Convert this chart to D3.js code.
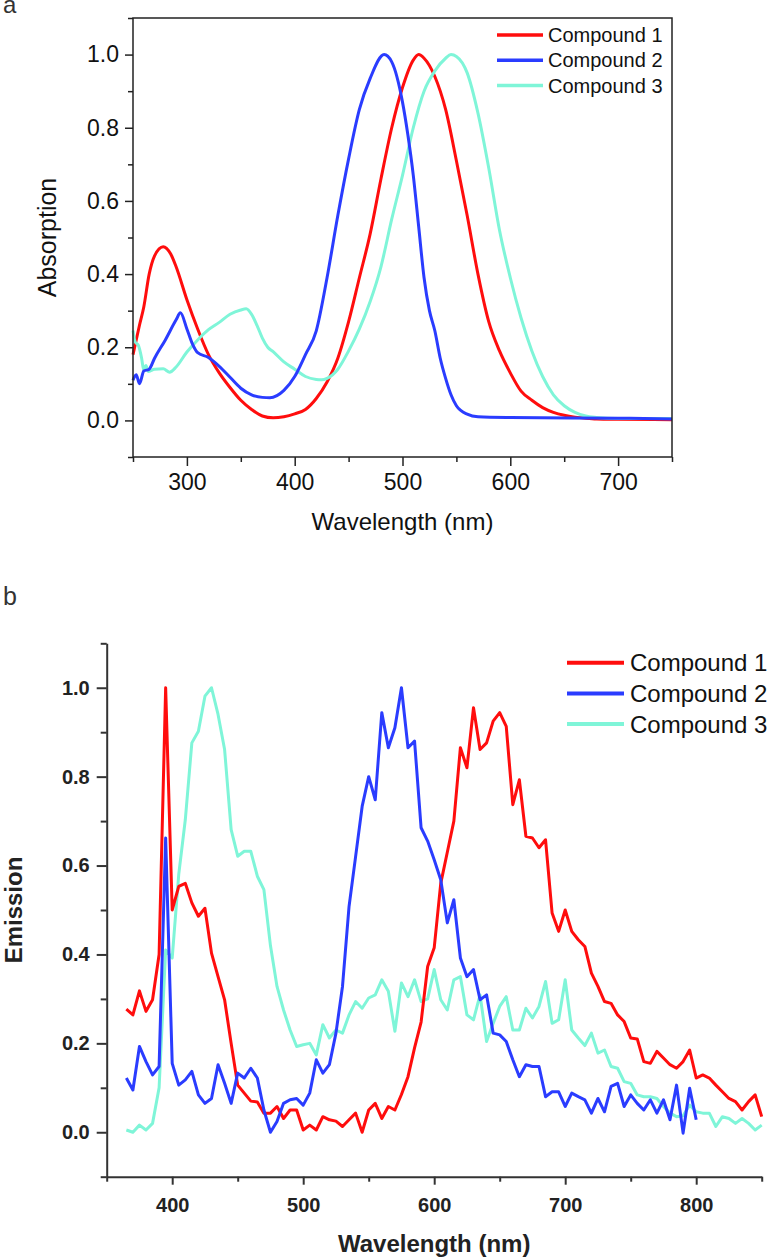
<!DOCTYPE html>
<html>
<head>
<meta charset="utf-8">
<script src="https://cdn.jsdelivr.net/npm/d3@7"></script>
<style>
  body { margin: 0; background: #fff; }
  svg { display: block; font-family: "Liberation Sans", Arial, sans-serif; }
</style>
</head>
<body>
<svg id="chart" width="773" height="1260"></svg>
<script>
// ---- data: panel a (absorption) ----
const seriesNames = ['Compound 1', 'Compound 2', 'Compound 3'];

const absWl1 = [250, 253, 256, 260, 265, 270, 278, 285, 290, 300, 310, 320, 330, 340, 350, 360, 370, 380, 390, 400, 410, 420, 430, 440, 450, 460, 470, 480, 490, 500, 510, 515, 520, 530, 540, 550, 560, 570, 580, 590, 600, 610, 620, 630, 640, 650, 660, 670, 680, 700, 750];
const absVal1 = [0.18, 0.22, 0.26, 0.31, 0.40, 0.45, 0.475, 0.455, 0.42, 0.33, 0.25, 0.18, 0.13, 0.09, 0.055, 0.03, 0.012, 0.007, 0.01, 0.018, 0.03, 0.06, 0.105, 0.17, 0.27, 0.39, 0.51, 0.66, 0.80, 0.91, 0.985, 1.0, 0.99, 0.94, 0.85, 0.71, 0.56, 0.40, 0.27, 0.19, 0.13, 0.08, 0.055, 0.035, 0.022, 0.014, 0.009, 0.006, 0.004, 0.003, 0.002];

const absWl2 = [250, 253, 256, 260, 265, 270, 280, 290, 294, 300, 305, 310, 320, 330, 340, 350, 360, 370, 377, 390, 400, 410, 420, 430, 440, 450, 460, 470, 483, 490, 500, 505, 510, 515, 520, 525, 530, 535, 540, 545, 550, 560, 570, 600, 700, 750];
const absVal2 = [0.11, 0.125, 0.10, 0.135, 0.14, 0.17, 0.22, 0.275, 0.294, 0.25, 0.21, 0.185, 0.172, 0.148, 0.118, 0.088, 0.07, 0.063, 0.062, 0.082, 0.12, 0.18, 0.245, 0.39, 0.56, 0.715, 0.85, 0.935, 1.0, 0.98, 0.87, 0.78, 0.67, 0.53, 0.39, 0.30, 0.245, 0.17, 0.115, 0.07, 0.04, 0.017, 0.01, 0.008, 0.006, 0.004];

const absWl3 = [250, 252, 255, 258, 260, 262, 264, 270, 278, 284, 290, 300, 310, 320, 330, 340, 350, 355, 360, 365, 370, 375, 380, 390, 400, 410, 420, 425, 430, 440, 450, 460, 470, 480, 490, 500, 510, 520, 530, 540, 545, 550, 560, 570, 580, 590, 600, 610, 620, 630, 640, 650, 660, 670, 680, 700, 750];
const absVal3 = [0.246, 0.215, 0.205, 0.17, 0.137, 0.15, 0.134, 0.14, 0.141, 0.132, 0.146, 0.187, 0.22, 0.248, 0.268, 0.29, 0.302, 0.305, 0.29, 0.26, 0.225, 0.2, 0.188, 0.16, 0.14, 0.12, 0.112, 0.111, 0.115, 0.14, 0.19, 0.25, 0.325, 0.42, 0.55, 0.67, 0.8, 0.9, 0.955, 0.99, 1.0, 0.995, 0.95, 0.84, 0.69, 0.52, 0.39, 0.28, 0.19, 0.12, 0.07, 0.04, 0.022, 0.012, 0.008, 0.005, 0.005];

// ---- data: panel b (emission) ----
const emWl = [365, 370, 375, 380, 385, 390, 395, 400, 405, 410, 415, 420, 425, 430, 435, 440, 445, 450, 455, 460, 465, 470, 475, 480, 485, 490, 495, 500, 505, 510, 515, 520, 525, 530, 535, 540, 545, 550, 555, 560, 565, 570, 575, 580, 585, 590, 595, 600, 605, 610, 615, 620, 625, 630, 635, 640, 645, 650, 655, 660, 665, 670, 675, 680, 685, 690, 695, 700, 705, 710, 715, 720, 725, 730, 735, 740, 745, 750, 755, 760, 765, 770, 775, 780, 785, 790, 795, 800, 805, 810, 815, 820, 825, 830, 835, 840, 845, 850];

const emVal1 = [0.277, 0.264, 0.318, 0.272, 0.298, 0.40, 1.0, 0.50, 0.553, 0.56, 0.516, 0.486, 0.504, 0.403, 0.35, 0.298, 0.2, 0.106, 0.088, 0.07, 0.068, 0.043, 0.043, 0.058, 0.031, 0.05, 0.05, 0.005, 0.016, 0.005, 0.035, 0.028, 0.025, 0.013, 0.028, 0.043, 0.0, 0.05, 0.065, 0.031, 0.058, 0.05, 0.085, 0.125, 0.19, 0.248, 0.373, 0.415, 0.56, 0.63, 0.70, 0.865, 0.82, 0.955, 0.861, 0.876, 0.925, 0.944, 0.913, 0.737, 0.793, 0.666, 0.662, 0.64, 0.658, 0.493, 0.452, 0.50, 0.452, 0.433, 0.418, 0.358, 0.328, 0.294, 0.29, 0.264, 0.249, 0.212, 0.21, 0.159, 0.155, 0.182, 0.167, 0.152, 0.144, 0.159, 0.185, 0.122, 0.129, 0.122, 0.106, 0.091, 0.076, 0.069, 0.05, 0.069, 0.084, 0.035];

const emVal2 = [0.122, 0.095, 0.193, 0.159, 0.129, 0.148, 0.662, 0.155, 0.106, 0.118, 0.137, 0.084, 0.065, 0.076, 0.152, 0.11, 0.065, 0.133, 0.122, 0.144, 0.122, 0.05, 0.0, 0.024, 0.065, 0.073, 0.076, 0.061, 0.088, 0.163, 0.133, 0.152, 0.223, 0.328, 0.508, 0.62, 0.733, 0.80, 0.748, 0.944, 0.865, 0.91, 1.0, 0.865, 0.88, 0.685, 0.655, 0.613, 0.568, 0.471, 0.523, 0.392, 0.35, 0.366, 0.298, 0.309, 0.223, 0.219, 0.204, 0.163, 0.125, 0.152, 0.148, 0.148, 0.08, 0.091, 0.091, 0.058, 0.088, 0.08, 0.073, 0.043, 0.076, 0.046, 0.103, 0.11, 0.058, 0.084, 0.065, 0.05, 0.073, 0.043, 0.073, 0.028, 0.106, -0.002, 0.099, 0.028];

const emVal3 = [0.005, 0.0, 0.016, 0.005, 0.02, 0.10, 0.41, 0.392, 0.58, 0.703, 0.876, 0.902, 0.981, 1.0, 0.94, 0.861, 0.681, 0.621, 0.632, 0.632, 0.576, 0.546, 0.42, 0.328, 0.275, 0.23, 0.193, 0.197, 0.2, 0.174, 0.242, 0.212, 0.23, 0.223, 0.264, 0.294, 0.279, 0.302, 0.309, 0.343, 0.317, 0.227, 0.336, 0.305, 0.343, 0.294, 0.30, 0.366, 0.298, 0.275, 0.343, 0.35, 0.264, 0.253, 0.309, 0.204, 0.245, 0.283, 0.305, 0.23, 0.23, 0.279, 0.257, 0.283, 0.339, 0.245, 0.253, 0.343, 0.23, 0.212, 0.195, 0.223, 0.178, 0.185, 0.148, 0.144, 0.114, 0.11, 0.084, 0.08, 0.08, 0.076, 0.058, 0.043, 0.035, 0.037, 0.061, 0.046, 0.043, 0.043, 0.013, 0.035, 0.031, 0.02, 0.031, 0.02, 0.005, 0.016];

const colors = ['#ff0d0d', '#2a3cff', '#7ff5d8'];

const svg = d3.select('#chart');
const zip = (xs, ys) => xs.map((x, i) => [x, ys[i]]).filter(d => d[1] !== undefined);

// ================= panel a =================
const xA = d3.scaleLinear().domain([250, 750]).range([133, 672]);
const yA = d3.scaleLinear().domain([-0.1, 1.1]).range([457, 18]);
const gA = svg.append('g');

gA.append('text').text('a').attr('x', 3).attr('y', 13)
  .style('font-size', '24px').style('fill', '#333');

// minor ticks
gA.append('g').attr('transform', 'translate(0,457)')
  .call(d3.axisBottom(xA).tickValues([250, 350, 450, 550, 650, 750]).tickSize(5).tickFormat(''))
  .call(g => g.select('.domain').remove());
gA.append('g').attr('transform', 'translate(133,0)')
  .call(d3.axisLeft(yA).tickValues([-0.1, 0.1, 0.3, 0.5, 0.7, 0.9, 1.1]).tickSize(5).tickFormat(''))
  .call(g => g.select('.domain').remove());

const axA_x = gA.append('g').attr('transform', 'translate(0,457)')
  .call(d3.axisBottom(xA).tickValues([300, 400, 500, 600, 700]).tickSize(9).tickPadding(8))
  .call(g => g.select('.domain').remove());
const axA_y = gA.append('g').attr('transform', 'translate(133,0)')
  .call(d3.axisLeft(yA).tickValues([0, 0.2, 0.4, 0.6, 0.8, 1.0]).tickSize(8).tickPadding(6).tickFormat(d3.format('.1f')))
  .call(g => g.select('.domain').remove());
[axA_x, axA_y].forEach(a => {
  a.selectAll('text').style('font-size', '23px').style('fill', '#111');
});
gA.selectAll('.tick line').style('stroke', '#222').style('stroke-width', 1.5);

const lineA = d3.line().x(d => xA(d[0])).y(d => yA(d[1])).curve(d3.curveMonotoneX);
const absSeries = [zip(absWl1, absVal1), zip(absWl2, absVal2), zip(absWl3, absVal3)];
[0, 2, 1].forEach(i => {
  gA.append('path').datum(absSeries[i]).attr('d', lineA)
    .attr('fill', 'none').attr('stroke', colors[i]).attr('stroke-width', 3)
    .attr('stroke-linejoin', 'round');
});

gA.append('rect').attr('x', 133).attr('y', 18).attr('width', 672 - 133).attr('height', 457 - 18)
  .attr('fill', 'none').attr('stroke', '#222').attr('stroke-width', 1.5);

gA.append('text').text('Absorption')
  .attr('transform', 'translate(56,' + ((18 + 457) / 2) + ') rotate(-90)')
  .attr('text-anchor', 'middle').style('font-size', '25px').style('fill', '#111');
gA.append('text').text('Wavelength (nm)')
  .attr('x', (133 + 672) / 2).attr('y', 530)
  .attr('text-anchor', 'middle').style('font-size', '24px').style('fill', '#111');

const legA = gA.append('g').selectAll('g').data(seriesNames).join('g')
  .attr('transform', (d, i) => `translate(497,${35 + i * 25.3})`);
legA.append('line').attr('x1', 0).attr('x2', 46)
  .attr('stroke', (d, i) => colors[i]).attr('stroke-width', 3.5);
legA.append('text').text(d => d).attr('x', 51).attr('dy', '0.35em')
  .style('font-size', '20px').style('fill', '#111');

// ================= panel b =================
const xB = d3.scaleLinear().domain([350, 850]).range([106.7, 761.7]);
const yB = d3.scaleLinear().domain([-0.1, 1.1]).range([1176.7, 643.3]);
const gB = svg.append('g');

gB.append('text').text('b').attr('x', 3).attr('y', 605)
  .style('font-size', '25px').style('fill', '#333');

gB.append('g').attr('transform', 'translate(0,1176.7)')
  .call(d3.axisBottom(xB).tickValues([350, 450, 550, 650, 750, 850]).tickSize(5).tickFormat(''))
  .call(g => g.select('.domain').remove());
gB.append('g').attr('transform', 'translate(106.7,0)')
  .call(d3.axisLeft(yB).tickValues([-0.1, 0.1, 0.3, 0.5, 0.7, 0.9, 1.1]).tickSize(6).tickFormat(''))
  .call(g => g.select('.domain').remove());

const axB_x = gB.append('g').attr('transform', 'translate(0,1176.7)')
  .call(d3.axisBottom(xB).tickValues([400, 500, 600, 700, 800]).tickSize(8).tickSizeOuter(0).tickPadding(13));
const axB_y = gB.append('g').attr('transform', 'translate(106.7,0)')
  .call(d3.axisLeft(yB).tickValues([0, 0.2, 0.4, 0.6, 0.8, 1.0]).tickSize(10).tickSizeOuter(0).tickPadding(7).tickFormat(d3.format('.1f')));
[axB_x, axB_y].forEach(a => {
  a.selectAll('text').style('font-size', '20px').style('font-weight', 'bold').style('fill', '#222');
});
gB.selectAll('.tick line').style('stroke', '#333').style('stroke-width', 2);
gB.selectAll('.domain').style('stroke', '#333').style('stroke-width', 2);

const lineB = d3.line().x(d => xB(d[0])).y(d => yB(d[1]));
const emSeries = [zip(emWl, emVal1), zip(emWl, emVal2), zip(emWl, emVal3)];
[2, 0, 1].forEach(i => {
  gB.append('path').datum(emSeries[i]).attr('d', lineB)
    .attr('fill', 'none').attr('stroke', colors[i]).attr('stroke-width', 3)
    .attr('stroke-linejoin', 'round');
});

gB.append('text').text('Emission')
  .attr('transform', 'translate(22,' + ((643.3 + 1176.7) / 2) + ') rotate(-90)')
  .attr('text-anchor', 'middle').style('font-size', '24px').style('font-weight', 'bold').style('fill', '#222');
gB.append('text').text('Wavelength (nm)')
  .attr('x', (106.7 + 761.7) / 2).attr('y', 1252)
  .attr('text-anchor', 'middle').style('font-size', '24px').style('font-weight', 'bold').style('fill', '#222');

const legB = gB.append('g').selectAll('g').data(seriesNames).join('g')
  .attr('transform', (d, i) => `translate(567,${662.7 + i * 30.7})`);
legB.append('line').attr('x1', 0).attr('x2', 57)
  .attr('stroke', (d, i) => colors[i]).attr('stroke-width', 4);
legB.append('text').text(d => d).attr('x', 63).attr('dy', '0.35em')
  .style('font-size', '24px').style('fill', '#111');
</script>
</body>
</html>
